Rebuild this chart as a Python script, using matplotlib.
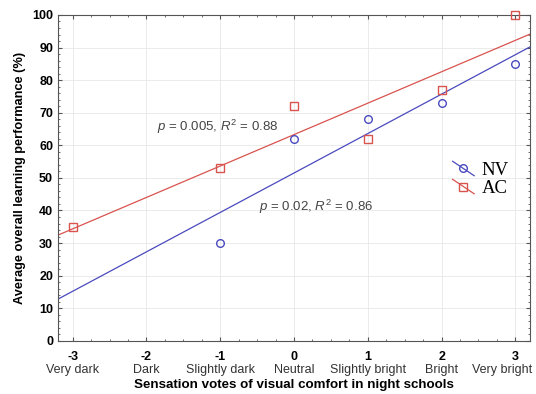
import numpy as np
import matplotlib
matplotlib.use("Agg")
import matplotlib.pyplot as plt
from matplotlib.lines import Line2D
from matplotlib.legend_handler import HandlerLine2D
from matplotlib.ticker import AutoMinorLocator, MultipleLocator

# sensation votes and category names
votes = [-3, -2, -1, 0, 1, 2, 3]
vote_names = ["Very dark", "Dark", "Slightly dark", "Neutral",
              "Slightly bright", "Bright", "Very bright"]

# NV series
nv_x = [-1, 0, 1, 2, 3]
nv_y = [30, 62, 68, 73, 85]

# AC series
ac_x = [-3, -1, 0, 1, 2, 3]
ac_y = [35, 53, 72, 62, 77, 100]

blue = "#4a4abf"
red = "#d9534f"

plt.rcParams["font.family"] = ["Liberation Sans", "DejaVu Sans"]
plt.rcParams["mathtext.fontset"] = "custom"
plt.rcParams["mathtext.it"] = "Liberation Sans:italic"
plt.rcParams["mathtext.rm"] = "Liberation Sans"


class SlantHandler(HandlerLine2D):
    # legend key drawn as a short slanted line with the marker in the middle
    def create_artists(self, legend, orig_handle, xdescent, ydescent,
                       width, height, fontsize, trans):
        x0, x1 = -xdescent, -xdescent + width
        y0, y1 = -ydescent + height * 1.05, -ydescent - height * 0.05
        line = Line2D([x0, x1], [y0, y1], color=orig_handle.get_color(),
                      lw=orig_handle.get_linewidth(), transform=trans)
        mark = Line2D([(x0 + x1) / 2], [(y0 + y1) / 2],
                      marker=orig_handle.get_marker(), mfc="none",
                      mec=orig_handle.get_markeredgecolor(),
                      ms=orig_handle.get_markersize(), mew=1.0,
                      linestyle="none", transform=trans)
        return [line, mark]


fig = plt.figure(figsize=(5.36, 3.94), dpi=100)
ax = fig.add_axes([0.108, 0.135, 0.881, 0.827])

xlim = (-3.2, 3.2)
xs = np.linspace(xlim[0], xlim[1], 50)

# fitted lines
nv_fit = np.polyfit(nv_x, nv_y, 1)
ac_fit = np.polyfit(ac_x, ac_y, 1)
ax.plot(xs, np.polyval(nv_fit, xs), color=blue, lw=0.9, zorder=2)
ax.plot(xs, np.polyval(ac_fit, xs), color=red, lw=0.9, zorder=2)

ax.plot(nv_x, nv_y, "o", mfc="none", mec=blue, ms=5.5, mew=1.0, zorder=3)
ax.plot(ac_x, ac_y, "s", mfc="none", mec=red, ms=6, mew=1.0, zorder=3,
        clip_on=False)

# legend proxies
h_nv, = ax.plot([], [], color=blue, lw=0.9, marker="o", mec=blue, ms=5.5,
                label="NV")
h_ac, = ax.plot([], [], color=red, lw=0.9, marker="s", mec=red, ms=6,
                label="AC")
ax.legend(handles=[h_nv, h_ac], loc="upper left",
          bbox_to_anchor=(0.82, 0.572), frameon=False,
          prop={"family": "Liberation Serif", "size": 13.5},
          handlelength=1.15, handletextpad=0.4, labelspacing=0.05,
          borderaxespad=0, handler_map={Line2D: SlantHandler()})

ax.text(-1.85, 65.5, r"$p$ = 0.005, $R^2$ = 0.88", fontsize=9.5,
        color="#444444", va="center")
ax.text(-0.47, 41.0, r"$p$ = 0.02, $R^2$ = 0.86", fontsize=9.5,
        color="#444444", va="center")

ax.set_xlim(*xlim)
ax.set_ylim(0, 100)
ax.set_xticks(votes)
ax.set_xticklabels([str(v) for v in votes], fontweight="bold", fontsize=9)
ax.yaxis.set_major_locator(MultipleLocator(10))
ax.tick_params(axis="y", labelsize=9)
for lab in ax.get_yticklabels():
    lab.set_fontweight("bold")
ax.xaxis.set_minor_locator(AutoMinorLocator(4))
ax.yaxis.set_minor_locator(AutoMinorLocator(5))
ax.tick_params(which="both", direction="in", top=True, right=True,
               color="#555555")
ax.tick_params(which="major", length=3)
ax.tick_params(which="minor", length=1.5)
ax.tick_params(axis="x", pad=7)

# category names under the numeric ticks; the last one is pulled in
# so it stays inside the figure, as in the original
for v, name in zip(votes[:-1], vote_names[:-1]):
    ax.text(v, -0.072, name, transform=ax.get_xaxis_transform(),
            ha="center", va="top", fontsize=9, color="#333333")
ax.text(1.005, -0.072, vote_names[-1], transform=ax.transAxes,
        ha="right", va="top", fontsize=9, color="#333333")

ax.grid(True, color="#e8e8e8", lw=0.6)
ax.set_axisbelow(True)
for s in ax.spines.values():
    s.set_color("#555555")
    s.set_linewidth(0.8)

ax.set_xlabel("Sensation votes of visual comfort in night schools",
              fontweight="bold", fontsize=9.6)
ax.xaxis.set_label_coords(0.5, -0.118)
ax.set_ylabel("Average overall learning performance (%)",
              fontweight="bold", fontsize=9.2, labelpad=4)

fig.savefig("out.png", dpi=100)
